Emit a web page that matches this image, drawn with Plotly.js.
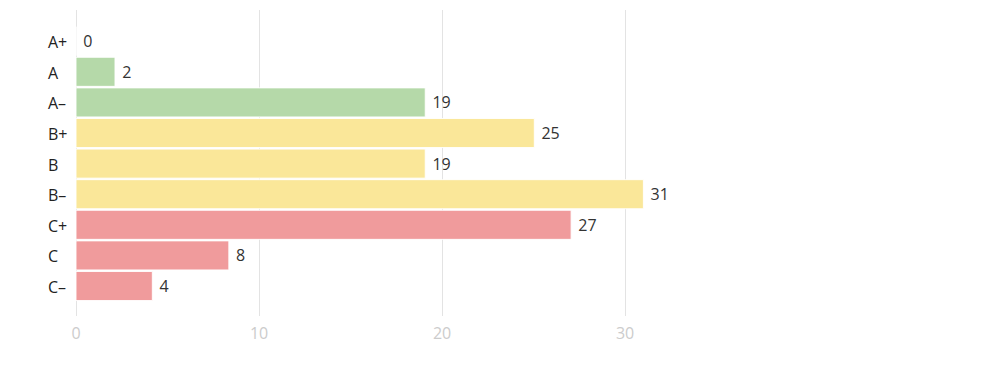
<!DOCTYPE html>
<html>
<head>
<meta charset="utf-8">
<script src="https://cdn.plot.ly/plotly-3.0.1.min.js"></script>
<style>html,body{margin:0;padding:0;background:#fff;}#chart{width:987px;height:367px;}</style>
</head>
<body>
<div id="chart"></div>
<script>
const grades = ["A+", "A", "A\u2013", "B+", "B", "B\u2013", "C+", "C", "C\u2013"];
const values = [0, 2.13, 19.08, 25.04, 19.08, 31, 27.05, 8.35, 4.17];
const labels = ["0", "2", "19", "25", "19", "31", "27", "8", "4"];
const groupColors = {A: "rgb(181,217,169)", B: "rgb(250,231,153)", C: "rgb(240,155,156)"};
const xTicks = [0, 10, 20, 30];

const colors = grades.map(g => groupColors[g[0]]);
const fontFam = "'Open Sans', 'Noto Sans', sans-serif";

const trace = {
  type: "bar",
  orientation: "h",
  x: values,
  y: grades,
  text: labels,
  texttemplate: " %{text}",
  textposition: "outside",
  cliponaxis: false,
  textfont: {family: fontFam, size: 16, color: "#333"},
  marker: {color: colors, line: {color: "rgba(255,255,255,0.9)", width: 1}},
  hoverinfo: "none"
};

const annotations = grades.map(g => ({
  xref: "paper", yref: "y", x: -0.05, y: g, xanchor: "left", yanchor: "middle",
  yshift: -1,
  text: g, showarrow: false, font: {family: fontFam, size: 16, color: "#222"}
}));

const layout = {
  width: 987, height: 367,
  margin: {l: 76, r: 307, t: 10, b: 51},
  paper_bgcolor: "#fff", plot_bgcolor: "#fff",
  bargap: 0.05,
  showlegend: false,
  font: {family: fontFam},
  xaxis: {
    range: [0, 33], tickvals: xTicks, ticktext: xTicks.map(String),
    showgrid: true, gridcolor: "#e3e3e3", gridwidth: 1,
    zeroline: true, zerolinecolor: "#e3e3e3", zerolinewidth: 1,
    showline: false, ticks: "", ticklabelstandoff: 6,
    tickfont: {family: fontFam, size: 16, color: "#cccccc"}
  },
  yaxis: {
    type: "category", categoryorder: "array", categoryarray: grades,
    range: [8.98, -1.02],
    showticklabels: false, showgrid: false, zeroline: false, ticks: ""
  },
  annotations: annotations
};

Plotly.newPlot("chart", [trace], layout, {staticPlot: true, displayModeBar: false});
</script>
</body>
</html>
